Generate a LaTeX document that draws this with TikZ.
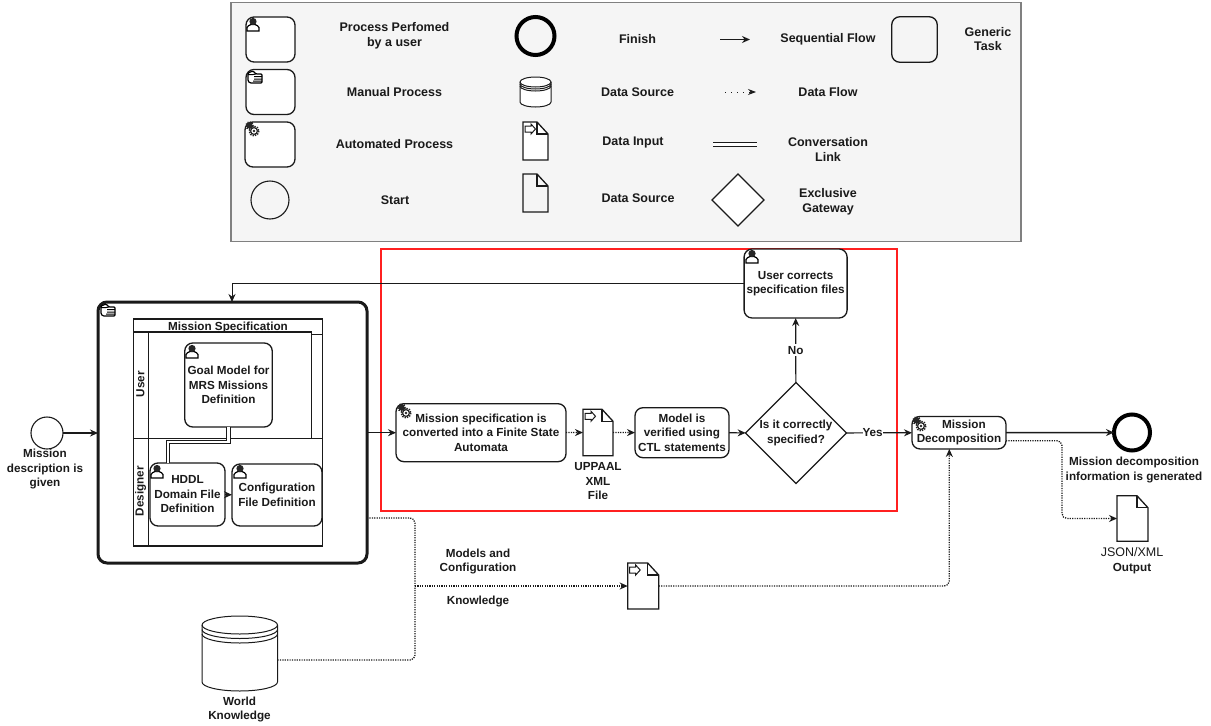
\documentclass[tikz,border=0pt]{standalone}
\usepackage{fontspec}
\setmainfont{Liberation Sans}
\usetikzlibrary{arrows.meta,shapes.geometric}
\definecolor{legendfill}{HTML}{F5F5F5}
\definecolor{legendline}{HTML}{808080}
\definecolor{inkline}{HTML}{1A1A1A}
\definecolor{redline}{HTML}{FF2020}
\tikzset{
    txt/.style={font=\bfseries\fontsize{11.7}{14.5}\selectfont, align=center, inner sep=0pt, text=inkline},
    legtxt/.style={txt, font=\bfseries\fontsize{12.5}{14.5}\selectfont},
    task/.style={txt, draw=inkline, rounded corners=8pt, line width=1.3pt, fill=white, outer sep=0pt},
    startevent/.style={circle, draw=inkline, line width=1.1pt, fill=white, inner sep=0pt, outer sep=0pt},
    finishevent/.style={circle, draw=black, line width=4pt, fill=white, inner sep=0pt, outer sep=0pt},
    gateway/.style={txt, diamond, aspect=1, draw=inkline, line width=1.2pt, fill=white, outer sep=0pt},
    lane/.style={rectangle, draw=inkline, line width=1.2pt, inner sep=0pt, outer sep=0pt},
    slot/.style={rectangle, inner sep=0pt, outer sep=0pt},
    seqflow/.style={draw=inkline, line width=1.2pt, -{Stealth[length=8pt,width=7pt]}},
    dataflow/.style={draw=inkline, line width=1.3pt, dash pattern=on 1.2pt off 1.2pt, rounded corners=5pt,
        -{Stealth[length=8pt,width=7pt,open,fill=white]}},
    dataline/.style={draw=inkline, line width=1.3pt, dash pattern=on 1.2pt off 1.2pt, rounded corners=5pt},
    convlink/.style={draw=inkline, line width=1.1pt, double=white, double distance=2.4pt},
    usericon/.pic={
        \draw[line width=1.2pt, fill=white] (1,14) -- (1,10.5) .. controls (1,8.5) and (4,8.5) .. (5,7.5)
            -- (9,7.5) .. controls (10,8.5) and (13,8.5) .. (13,10.5) -- (13,14) -- cycle;
        \fill[black!85] (7,4.5) circle [radius=3.6];
    },
    handicon/.pic={
        \draw[line width=1.2pt, fill=white, rounded corners=1pt] (1,3) -- (6,1) -- (9,4) -- (15,4) -- (15,13) -- (3,13) -- (1,11) -- cycle;
        \draw[line width=1pt] (1,4.5) -- (6,4.5) -- (9,4) (7,6.5) -- (15,6.5) (7,9) -- (15,9) (6,11) -- (15,11);
    },
    gearicon/.pic={
        \draw[line width=1.5pt, dash pattern=on 1.2pt off 1.2pt, black!85] (4.5,4.5) circle [radius=3.6];
        \fill[black!85] (4.5,4.5) circle [radius=3.2];
        \draw[line width=1.6pt, dash pattern=on 1.3pt off 1.2pt, black!85] (9,10) circle [radius=4.8];
        \draw[line width=1.2pt, black!85, fill=white] (9,10) circle [radius=3.4];
        \fill[black!85] (9,10) circle [radius=1.4];
    }
}
% page with a folded corner, drawn on a named slot
\newcommand{\foldpage}[2]{
    \draw[draw=inkline, line width=1.3pt, fill=#2] (#1.north west) -- ([xshift=-11pt]#1.north east)
        -- ([yshift=-12pt]#1.north east) -- (#1.south east) -- (#1.south west) -- cycle;
    \draw[draw=inkline, line width=1.3pt] ([xshift=-11pt]#1.north east) -- ([xshift=-11pt,yshift=-12pt]#1.north east)
        -- ([yshift=-12pt]#1.north east);
}
\newcommand{\inputarrow}[1]{
    \draw[draw=inkline, line width=1pt, fill=white] ([xshift=2pt,yshift=-4pt]#1.north west) -- ++(6pt,0pt) -- ++(0pt,2pt)
        -- ++(4.5pt,-5pt) -- ++(-4.5pt,-5pt) -- ++(0pt,2pt) -- ++(-6pt,0pt) -- cycle;
}
% slot name, half width, ellipse height, band gap
\newcommand{\datastore}[4]{
    \draw[draw=inkline, line width=1pt, fill=white] ([yshift=-#3pt]#1.north west) arc[start angle=180, end angle=0, x radius=#2pt, y radius=#3pt]
        -- ([yshift=#3pt]#1.south east) arc[start angle=0, end angle=-180, x radius=#2pt, y radius=#3pt] -- cycle;
    \foreach \band in {0,1,2}
        \draw[draw=inkline, line width=1pt] ([yshift={-#3pt-\band*#4pt}]#1.north west) arc[start angle=180, end angle=360, x radius=#2pt, y radius=#3pt];
}
\begin{document}
\begin{tikzpicture}[x=1pt, y=-1pt]
\useasboundingbox (0,0) rectangle (1211,726);

% legend
\node[rectangle, draw=legendline, line width=1.2pt, fill=legendfill, minimum width=790pt, minimum height=239pt, inner sep=0pt] (legendBox) at (626,122) {};
\node[task, minimum width=49pt, minimum height=45pt] (legendUser) at (270.5,39.5) {};
\pic at (246,17) {usericon};
\node[task, minimum width=49pt, minimum height=45pt] (legendManual) at (270.5,92) {};
\pic at (247,70) {handicon};
\node[task, minimum width=50pt, minimum height=45pt] (legendAuto) at (270,144.5) {};
\pic at (245,121) {gearicon};
\node[startevent, minimum size=38pt, fill=none] (legendStart) at (270,200) {};
\node[finishevent, minimum size=38pt, fill=none] (legendFinish) at (535.5,36) {};
\node[slot, minimum width=31pt, minimum height=30pt] (legendStore) at (535.5,92) {};
\datastore{legendStore}{15.5}{5}{2}
\node[slot, minimum width=25pt, minimum height=38pt] (legendInput) at (535.5,141) {};
\foldpage{legendInput}{white}
\inputarrow{legendInput}
\node[slot, minimum width=25pt, minimum height=38pt] (legendDoc) at (535.5,193) {};
\foldpage{legendDoc}{legendfill}
\coordinate (seqFrom) at (720,39.5);
\coordinate (seqTo) at (750,39.5);
\draw[seqflow] (seqFrom) -- (seqTo);
\coordinate (flowFrom) at (725,92);
\coordinate (flowTo) at (756,92);
\draw[draw=inkline, line width=1pt, dash pattern=on 1pt off 5pt, -{Stealth[length=8pt,width=6pt]}] (flowFrom) -- (flowTo);
\coordinate (convFrom) at (713,144.5);
\coordinate (convTo) at (757,144.5);
\draw[convlink] (convFrom) -- (convTo);
\node[gateway, minimum size=52pt] (legendGate) at (738,200) {};
\node[task, minimum width=45.5pt, minimum height=45.5pt, fill=none] (legendGeneric) at (914.5,39.5) {};

\node[legtxt] (txtUser) at (394.5,36) {Process Perfomed\\by a user};
\node[legtxt] (txtManual) at (394.5,92) {Manual Process};
\node[legtxt] (txtAuto) at (394.5,144) {Automated Process};
\node[legtxt] (txtStart) at (395,200) {Start};
\node[legtxt] (txtFinish) at (637.5,39.5) {Finish};
\node[legtxt] (txtStore) at (637.5,92) {Data Source};
\node[legtxt] (txtInput) at (633,142) {Data Input};
\node[legtxt] (txtDoc) at (638,198) {Data Source};
\node[legtxt] (txtSeq) at (828,39.5) {Sequential Flow};
\node[legtxt] (txtFlow) at (828,92) {Data Flow};
\node[legtxt] (txtConv) at (828,149.5) {Conversation\\Link};
\node[legtxt] (txtGate) at (828,202) {Exclusive\\Gateway};
\node[legtxt] (txtGeneric) at (988,39) {Generic\\Task};

% red box
\node[rectangle, draw=redline, line width=2pt, minimum width=516pt, minimum height=262pt, inner sep=0pt] (redBox) at (639,380) {};

% mission specification
\node[task, line width=3pt, rounded corners=9pt, minimum width=269pt, minimum height=261pt] (specTask) at (232.5,432.5) {};
\pic at (100,303) {handicon};
\node[txt] (poolTitle) at (228,327.5) {Mission Specification};
\node[lane, minimum width=189pt, minimum height=227pt] (specPool) at (227.8,432.5) {};
\node[lane, minimum width=178pt, minimum height=106.5pt] (userLane) at (222.3,385.2) {};
\node[lane, minimum width=189pt, minimum height=107.5pt] (designerLane) at (227.8,492.2) {};
\draw[lane] (userLane.east |- 0,334.5) -- (specPool.east |- 0,334.5);
\draw[lane] (148.3,332) -- (148.3,546);
\node[txt, rotate=90] (userTitle) at (140.5,384) {User};
\node[txt, rotate=90] (designerTitle) at (140.5,491) {Designer};
\node[task, minimum width=87.5pt, minimum height=84pt] (goalTask) at (228.5,385) {Goal Model for\\MRS Missions\\Definition};
\pic at (185,344) {usericon};
\node[task, minimum width=75pt, minimum height=63pt] (hddlTask) at (187.5,494.5) {HDDL\\Domain File\\Definition};
\pic at (150,464) {usericon};
\node[task, minimum width=90pt, minimum height=62pt] (configTask) at (277,495) {Configuration\\File Definition};
\pic at (233,464) {usericon};
\draw[convlink] (goalTask.south) -- ++(0,15) -| ([xshift=-19.5pt]hddlTask.north);
\draw[seqflow] (hddlTask) -- (configTask);

% verification
\node[startevent, minimum size=32pt] (startEvent) at (47,433) {};
\node[txt] (startTxt) at (45,469) {Mission\\description is\\given};
\node[task, minimum width=170pt, minimum height=58pt] (fsaTask) at (481,432.7) {Mission specification is\\converted into a Finite State\\Automata};
\pic at (397,403) {gearicon};
\node[slot, minimum width=30pt, minimum height=46.5pt] (xmlDoc) at (598,432.5) {};
\foldpage{xmlDoc}{white}
\inputarrow{xmlDoc}
\node[txt] (xmlTxt) at (598,481.5) {UPPAAL\\XML\\File};
\node[task, minimum width=94pt, minimum height=50pt] (ctlTask) at (682,432.7) {Model is\\verified using\\CTL statements};
\node[gateway, minimum size=101pt] (checkGate) at (796,433) {Is it correctly\\specified?};
\node[task, minimum width=103pt, minimum height=69pt] (fixTask) at (795.6,283.5) {User corrects\\specification files};
\pic at (745,249) {usericon};
\node[task, minimum width=94pt, minimum height=32.5pt] (decompTask) at (959,432.7) {\phantom{M}Mission\\Decomposition};
\pic at (912,416) {gearicon};
\node[finishevent, minimum size=36pt] (finishEvent) at (1132,432.5) {};
\node[txt] (finishTxt) at (1134,470) {Mission decomposition\\information is generated};
\node[slot, minimum width=31pt, minimum height=45.5pt] (outDoc) at (1132.5,518.5) {};
\foldpage{outDoc}{white}
\node[txt] (outTxt) at (1132,560.5) {{\mdseries\fontsize{12.5}{14.5}\selectfont JSON/XML}\\Output};

% flows
\draw[seqflow] (startEvent) -- (specTask.west |- startEvent);
\draw[seqflow] (specTask.east |- fsaTask) -- (fsaTask);
\draw[dataflow] (fsaTask) -- (xmlDoc);
\draw[dataflow] (xmlDoc) -- (ctlTask);
\draw[seqflow] (ctlTask) -- (checkGate);
\draw[seqflow] (checkGate) -- node[txt, fill=white, inner ysep=2pt] (noTxt) {No} (fixTask);
\draw[seqflow] (checkGate) -- node[txt, fill=white, inner ysep=2pt, pos=0.4] (yesTxt) {Yes} (decompTask);
\draw[seqflow, line width=1pt] (fixTask.west) -| ([xshift=-0.5pt]specTask.north);
\draw[seqflow, line width=1.5pt] (decompTask) -- (finishEvent);
\draw[dataflow] ([yshift=-8pt]decompTask.east) -- ++(56,0) |- (outDoc.west);

% knowledge
\node[slot, minimum width=75.5pt, minimum height=75pt] (worldStore) at (239.75,653.5) {};
\datastore{worldStore}{37.75}{9}{4.5}
\node[txt] (worldTxt) at (239.5,709.5) {World\\Knowledge};
\node[slot, minimum width=31pt, minimum height=46pt] (kbDoc) at (643.2,586) {};
\foldpage{kbDoc}{white}
\inputarrow{kbDoc}
\coordinate (kbJoin) at (415,586);
\draw[dataline] ([yshift=-85.5pt]specTask.east) -| (kbJoin);
\draw[dataline] (worldStore.east |- 0,660) -| (kbJoin);
\draw[dataflow] (kbJoin) -- (kbDoc);
\draw[dataflow] (kbDoc) -| ([xshift=-9.7pt]decompTask.south);
\node[txt] (modelsTxt) at (478,561.5) {Models and\\Configuration};
\node[txt] (knowledgeTxt) at (478,601.5) {Knowledge};
\end{tikzpicture}
\end{document}
